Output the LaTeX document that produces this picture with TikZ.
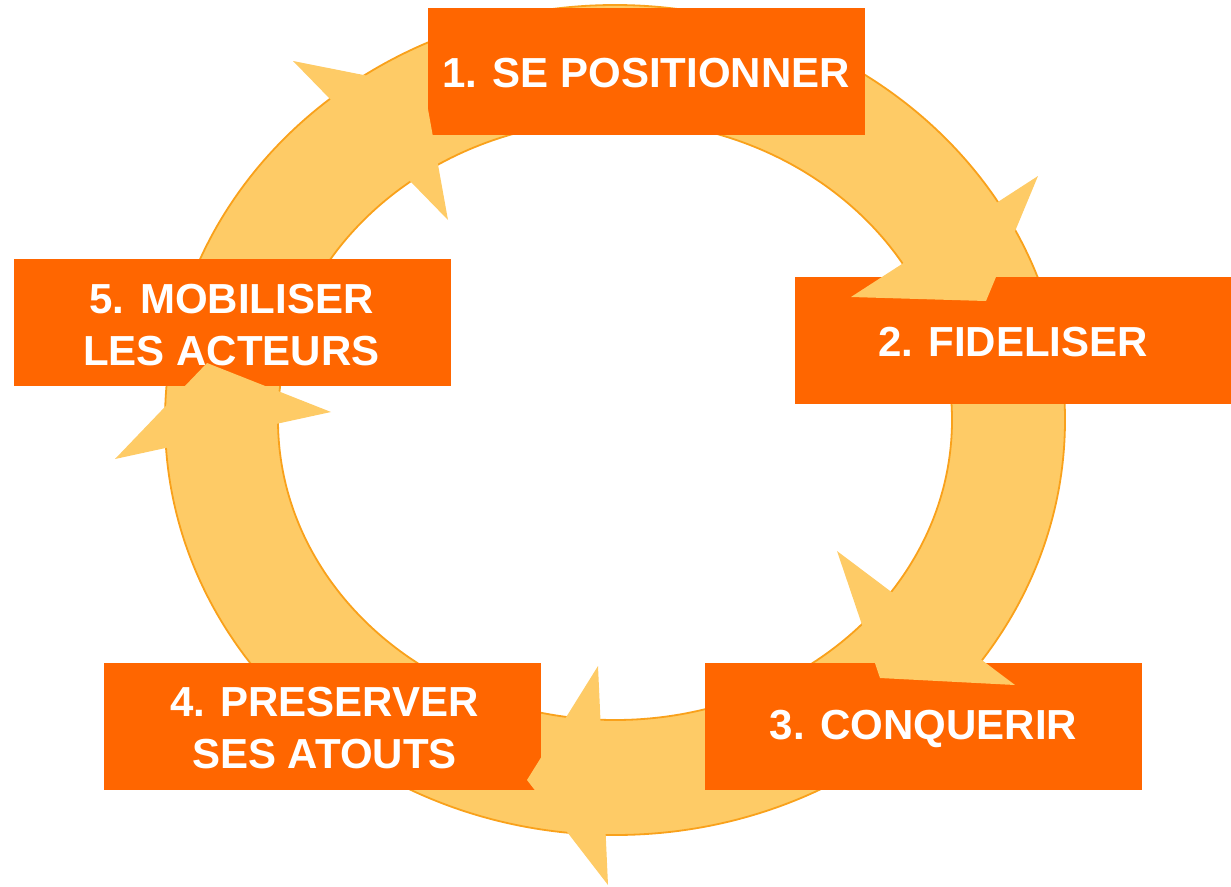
\documentclass[tikz,border=0pt]{standalone}
\usepackage{fontspec}
\setmainfont{Liberation Sans}
\definecolor{DarkOrange}{HTML}{FF6600}
\definecolor{LightOrange}{HTML}{FECB66}
\definecolor{RingEdge}{HTML}{F9A11B}
\begin{document}
\begin{tikzpicture}[x=1pt, y=-1pt,
  phase/.style={fill=DarkOrange, minimum width=437pt, minimum height=127pt, inner sep=0pt},
  phasetext/.style={text=white, font=\fontsize{42}{52}\selectfont\bfseries, align=center},
  ringfill/.style={fill=LightOrange}]
  \useasboundingbox (0,0) rectangle (1231,886);
  \coordinate (Centre) at (615,420);

  % the ring
  \filldraw[ringfill, draw=RingEdge, line width=1.8pt, even odd rule]
    (Centre) ellipse [x radius=450, y radius=415]
    (Centre) ellipse [x radius=337, y radius=300];

  % the five steps
  \node[phase] (Pone)   at (646,71.5)    {};
  \node[phase] (Ptwo)   at (1013,340.5)  {};
  \node[phase] (Pthree) at (923.5,726.5) {};
  \node[phase] (Pfour)  at (322.5,726.5) {};
  \node[phase] (Pfive)  at (232.5,322.5) {};

  % arrow heads
  \foreach \ax/\ay/\bx/\by/\cx/\cy in {293/61/448/220/424/87,
      1038/176/851/297/986/301, 837/551/1015/685/880/678,
      598/666/608/885/527/780, 331/412/115/459/207/363}{%
    \fill[ringfill] (\ax,\ay) -- (\bx,\by) -- (\cx,\cy) -- cycle;
  }

  \node[phasetext] at ([yshift=-2pt]Pone)   {1. SE POSITIONNER};
  \node[phasetext] at ([yshift=-2pt]Ptwo)   {2. FIDELISER};
  \node[phasetext] at ([yshift=-2pt]Pthree) {3. CONQUERIR};
  \node[phasetext] at ([xshift=2pt, yshift=-2pt]Pfour)  {4. PRESERVER\\ SES ATOUTS};
  \node[phasetext] at ([xshift=-1pt, yshift=-3pt]Pfive)  {5. MOBILISER\\LES ACTEURS};
\end{tikzpicture}
\end{document}
